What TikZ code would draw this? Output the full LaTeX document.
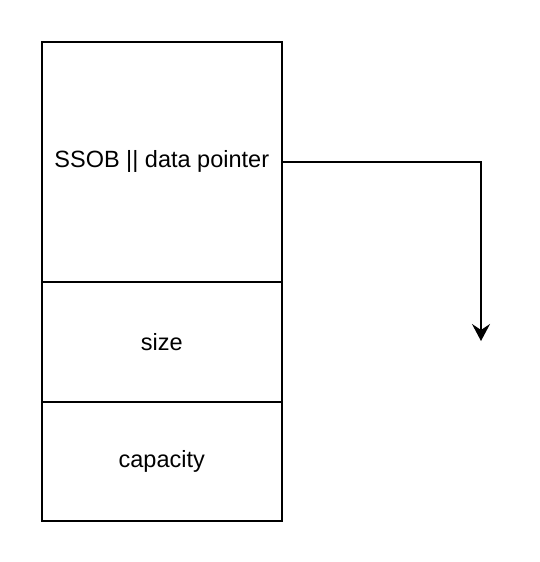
\documentclass[tikz,border=0pt]{standalone}
\usepackage{fontspec}
\setmainfont{Liberation Sans}
\usetikzlibrary{arrows.meta}
\begin{document}
\begin{tikzpicture}[x=1pt,y=-1pt,
  cell/.style={draw=black,line width=1.5pt,minimum width=240pt,inner sep=0pt,anchor=north west,font=\fontsize{23.5}{28}\selectfont},
  link/.style={draw=black,line width=1.5pt,-{Stealth[length=17pt,width=18pt,inset=6pt]}}]
\useasboundingbox (0,0) rectangle (540,562);
\node[cell,minimum height=240pt] (ptr) at (41,41) {SSOB || data pointer};
\node[cell,minimum height=120pt] (size) at (41,281) {size};
\node[cell,minimum height=119pt] (cap) at (41,401) {\raisebox{-2pt}{capacity}};
\coordinate (end) at (481,341);
\draw[link] (ptr.east) -| (end);
\end{tikzpicture}
\end{document}
